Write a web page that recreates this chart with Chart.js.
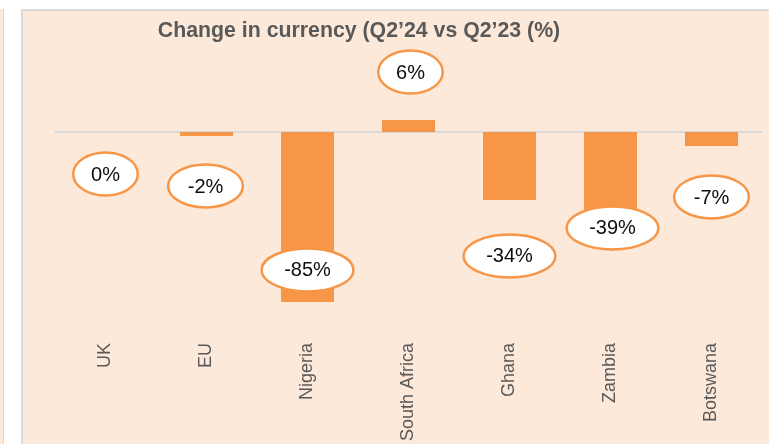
<!DOCTYPE html>
<html>
<head>
<meta charset="utf-8">
<script src="https://cdn.jsdelivr.net/npm/chart.js@4.4.1/dist/chart.umd.min.js"></script>
<style>
  body { margin: 0; background: #ffffff; width: 769px; height: 444px; overflow: hidden; position: relative; }
  #leftPanel { position: absolute; left: -20px; top: 9px; width: 23px; height: 440px; background: #fde9da; border-right: 1px solid #d6d6d6; }
  #panel { position: absolute; left: 21px; top: 9px; width: 748px; height: 435px; background: #fde9da;
           border-left: 2px solid #d9d9d9; border-top: 2px solid #d9d9d9; box-sizing: border-box; }
  #wrap { position: absolute; left: 0; top: 0; width: 746px; height: 433px; }
</style>
</head>
<body>
<div id="leftPanel"></div>
<div id="panel"><div id="wrap"><canvas id="myChart"></canvas></div></div>
<script>
// chart data
const chartTitle = "Change in currency (Q2\u201924 vs Q2\u201923 (%)";
const countries = ["UK", "EU", "Nigeria", "South Africa", "Ghana", "Zambia", "Botswana"];
const changePct = [0, -2, -85, 6, -34, -39, -7];

// where the bubble labels sit relative to the bar end (pixels)
const labelShiftX = [0, -1, 0, 2, 0, 2, 0];
const labelShiftY = [42, 50, -32, -48, 56, 18, 51];

const orange = "#f79646";
const ctx = document.getElementById("myChart");

// title is not centred over the plot in the original, so draw it by hand
const titlePlugin = {
  id: "titleText",
  afterDraw(chart) {
    const c = chart.ctx;
    c.save();
    c.font = "bold 21.3px 'Liberation Sans', Arial, sans-serif";
    c.fillStyle = "#595959";
    c.textAlign = "center";
    c.textBaseline = "alphabetic";
    c.fillText(chartTitle, 336, 26);
    c.restore();
  }
};

// grey zero line across the plot
const zeroLine = {
  id: "zeroLine",
  beforeDatasetsDraw(chart) {
    const c = chart.ctx;
    const y = chart.scales.y.getPixelForValue(0);
    c.save();
    c.strokeStyle = "#d9d9d9";
    c.lineWidth = 2;
    c.beginPath();
    c.moveTo(chart.chartArea.left, y);
    c.lineTo(chart.chartArea.right, y);
    c.stroke();
    c.restore();
  }
};

// oval callouts with the percentages
const bubbleLabels = {
  id: "bubbleLabels",
  afterDatasetsDraw(chart) {
    const c = chart.ctx;
    const meta = chart.getDatasetMeta(0);
    c.save();
    c.font = "20px 'Liberation Sans', Arial, sans-serif";
    meta.data.forEach((bar, i) => {
      const txt = changePct[i] + "%";
      const tw = c.measureText(txt).width;
      const cx = bar.x + labelShiftX[i];
      const cy = bar.y + labelShiftY[i];
      const rx = (1.54 * tw + 20) / 2;
      const ry = 21.5;
      c.beginPath();
      c.ellipse(cx, cy, rx, ry, 0, 0, Math.PI * 2);
      c.fillStyle = "#ffffff";
      c.fill();
      c.lineWidth = 2.5;
      c.strokeStyle = orange;
      c.stroke();
      c.fillStyle = "#0d0d0d";
      c.textAlign = "center";
      c.textBaseline = "middle";
      c.fillText(txt, cx, cy + 1);
    });
    c.restore();
  }
};

const chart = new Chart(ctx, {
  type: "bar",
  data: {
    labels: countries,
    datasets: [{
      data: changePct,
      backgroundColor: orange,
      borderWidth: 0,
      barPercentage: 0.525,
      categoryPercentage: 1
    }]
  },
  options: {
    responsive: true,
    maintainAspectRatio: false,
    animation: false,
    layout: { padding: { left: 32, right: 7, top: 81, bottom: 0 } },
    plugins: {
      legend: { display: false },
      tooltip: { enabled: false },
      title: { display: false }
    },
    scales: {
      x: {
        grid: { display: false, drawTicks: false },
        border: { display: false },
        ticks: {
          autoSkip: false,
          minRotation: 90,
          maxRotation: 90,
          padding: 3,
          color: "#595959",
          font: { family: "'Liberation Sans', Arial, sans-serif", size: 18 }
        }
      },
      y: {
        display: false,
        min: -104,
        max: 20
      }
    }
  },
  plugins: [zeroLine, bubbleLabels, titlePlugin]
});
</script>
</body>
</html>
